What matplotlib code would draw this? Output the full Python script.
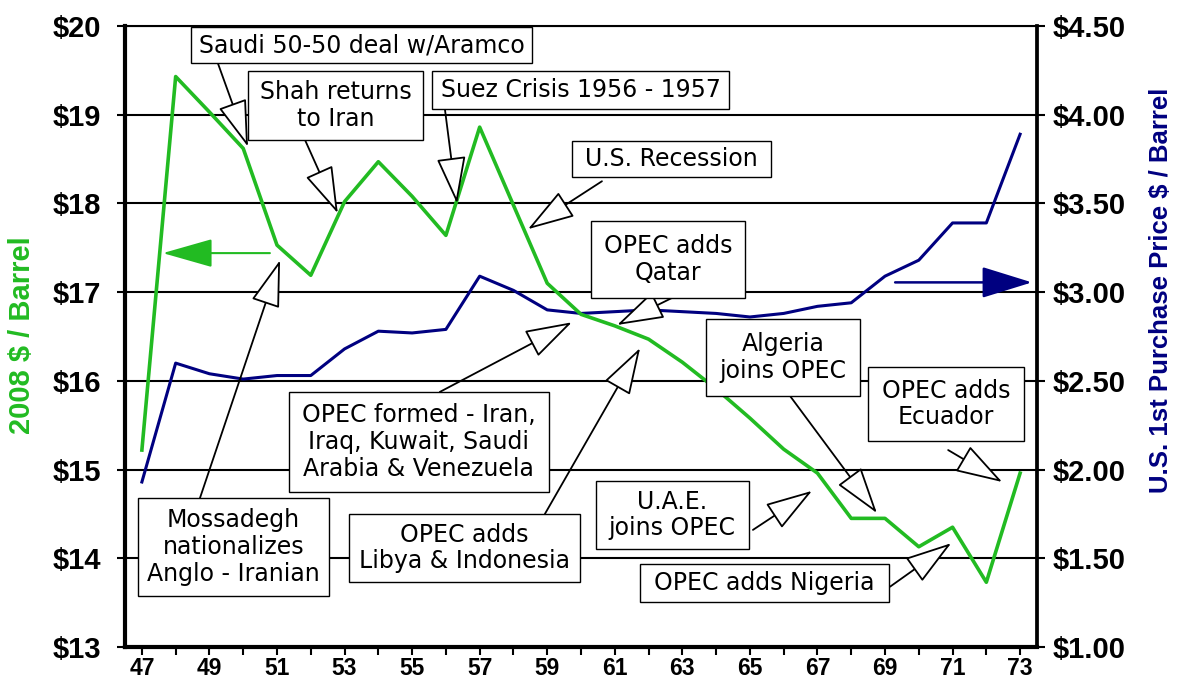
import matplotlib
matplotlib.use('Agg')
import matplotlib.pyplot as plt
from matplotlib.patches import Rectangle
import numpy as np

# ---- data ----
years = list(range(47, 74))
price_2008 = [15.22, 19.43, 19.03, 18.62, 17.53, 17.19, 18.02, 18.47, 18.08, 17.64,
              18.86, 17.98, 17.10, 16.75, 16.62, 16.47, 16.21, 15.91, 15.58, 15.23,
              14.96, 14.45, 14.45, 14.13, 14.35, 13.73, 14.96]
price_nominal = [1.93, 2.60, 2.54, 2.51, 2.53, 2.53, 2.68, 2.78, 2.77, 2.79,
                 3.09, 3.01, 2.90, 2.88, 2.89, 2.90, 2.89, 2.88, 2.86, 2.88,
                 2.92, 2.94, 3.09, 3.18, 3.39, 3.39, 3.89]
left_ticks = list(range(13, 21))
left_labels = ['$%d' % v for v in left_ticks]
right_ticks = [1.0, 1.5, 2.0, 2.5, 3.0, 3.5, 4.0, 4.5]
right_labels = ['$%.2f' % v for v in right_ticks]
x_labels = [str(y) if (y - 47) % 2 == 0 else '' for y in years]

# annotations: text, box (x0, y0, x1, y1) in left-axis data units, arrow start, arrow tip
notes = [
    ("Saudi 50-50 deal w/Aramco", (48.45, 19.58, 58.55, 19.99), (49.25, 19.58), (50.14, 18.64)),
    ("Shah returns\nto Iran", (50.14, 18.715, 55.32, 19.493), (51.83, 18.715), (52.80, 17.89)),
    ("Suez Crisis 1956 - 1957", (55.59, 19.065, 64.38, 19.493), (55.97, 19.065), (56.33, 18.0)),
    ("U.S. Recession", (59.73, 18.298, 65.63, 18.704), (60.62, 18.25), (58.43, 17.71)),
    ("OPEC adds\nQatar", (60.30, 16.934, 64.86, 17.802), (62.69, 16.934), (61.07, 16.63)),
    ("Mossadegh\nnationalizes\nAnglo - Iranian", (46.88, 13.575, 52.54, 14.680), (48.72, 14.68), (51.09, 17.36)),
    ("OPEC formed - Iran,\nIraq, Kuwait, Saudi\nArabia & Venezuela", (51.35, 14.747, 59.05, 15.875), (55.82, 15.875), (59.73, 16.66)),
    ("OPEC adds\nLibya & Indonesia", (53.13, 13.733, 59.97, 14.499), (58.93, 14.499), (61.75, 16.37)),
    ("Algeria\njoins OPEC", (63.70, 15.829, 68.26, 16.697), (66.19, 15.829), (68.76, 14.51)),
    ("U.A.E.\njoins OPEC", (60.44, 14.105, 64.97, 14.871), (65.09, 14.32), (66.84, 14.76)),
    ("OPEC adds Nigeria", (61.75, 13.507, 69.12, 13.936), (69.15, 13.68), (70.96, 14.17)),
    ("OPEC adds\nEcuador", (68.50, 15.322, 73.12, 16.156), (70.87, 15.22), (72.47, 14.86)),
]

green = '#22bb22'
navy = '#000080'

plt.rcParams['font.family'] = ['Liberation Sans', 'DejaVu Sans']

fig = plt.figure(figsize=(11.89, 6.81), dpi=100)
fig.patch.set_facecolor('white')
ax = fig.add_axes([125 / 1189, 34 / 681, 912 / 1189, 621 / 681])
ax2 = ax.twinx()
ax.set_zorder(ax2.get_zorder() + 1)
ax.patch.set_visible(False)

ax.set_xlim(46.5, 73.5)
ax.set_ylim(13, 20)
ax2.set_ylim(1, 4.5)

# grid on right axis (aligned with left)
ax2.set_yticks(right_ticks)
ax2.set_yticklabels(right_labels, fontweight='bold', fontsize=21)
ax2.grid(axis='y', color='black', lw=1.5)
ax2.tick_params(axis='y', direction='out', length=6, width=1.5, pad=5, colors='black')

ax.set_yticks(left_ticks)
ax.set_yticklabels(left_labels, fontweight='bold', fontsize=21)
ax.tick_params(axis='y', direction='out', length=6, width=1.5, pad=11)
ax.set_xticks(years)
ax.set_xticklabels(x_labels, fontweight='bold', fontsize=16.5)
ax.tick_params(axis='x', direction='out', length=6, width=1.5, pad=1.5)

for s in ['left', 'right', 'top', 'bottom']:
    ax2.spines[s].set_visible(False)
ax2.spines['right'].set_visible(True)
ax2.spines['right'].set_linewidth(2.7)
ax.spines['right'].set_visible(False)
ax.spines['left'].set_linewidth(3)
ax.spines['bottom'].set_linewidth(3)
ax.spines['top'].set_linewidth(1.5)

# series
ax2.plot(years, price_nominal, color=navy, lw=2.2, zorder=3)
ax.plot(years, price_2008, color=green, lw=2.6, zorder=3)

# big direction arrows
ax.annotate('', xy=(47.62, 17.44), xytext=(50.79, 17.44),
            arrowprops=dict(arrowstyle='-|>,head_length=1.58,head_width=0.45', mutation_scale=20,
                            fc=green, ec=green, lw=1.5, shrinkA=0, shrinkB=0), zorder=4)
ax.annotate('', xy=(73.35, 17.11), xytext=(69.3, 17.11),
            arrowprops=dict(arrowstyle='-|>,head_length=1.58,head_width=0.49', mutation_scale=20,
                            fc=navy, ec=navy, lw=1.8, shrinkA=0, shrinkB=0), zorder=4)

for text, (x0, y0, x1, y1), start, tip in notes:
    ax.annotate('', xy=tip, xytext=start,
                arrowprops=dict(arrowstyle='-|>,head_length=1.5,head_width=0.47', mutation_scale=20,
                                fc='white', ec='black', lw=1.3, shrinkA=0, shrinkB=0), zorder=5)
    ax.add_patch(Rectangle((x0, y0), x1 - x0, y1 - y0, fc='white', ec='black', lw=1.0, zorder=6))
    ax.text((x0 + x1) / 2, (y0 + y1) / 2, text, ha='center', va='center', multialignment='center',
            fontsize=17, family=['DejaVu Sans'], color='black', zorder=7, linespacing=1.15)

fig.text(22 / 1189, 1 - 335 / 681, '2008 $ / Barrel', rotation=90, ha='center', va='center',
         color=green, fontsize=21, fontweight='bold')
fig.text(1161 / 1189, 1 - 290 / 681, 'U.S. 1st Purchase Price $ / Barrel', rotation=90,
         ha='center', va='center', color=navy, fontsize=18.5, fontweight='bold')

fig.savefig('out.png', dpi=100)
